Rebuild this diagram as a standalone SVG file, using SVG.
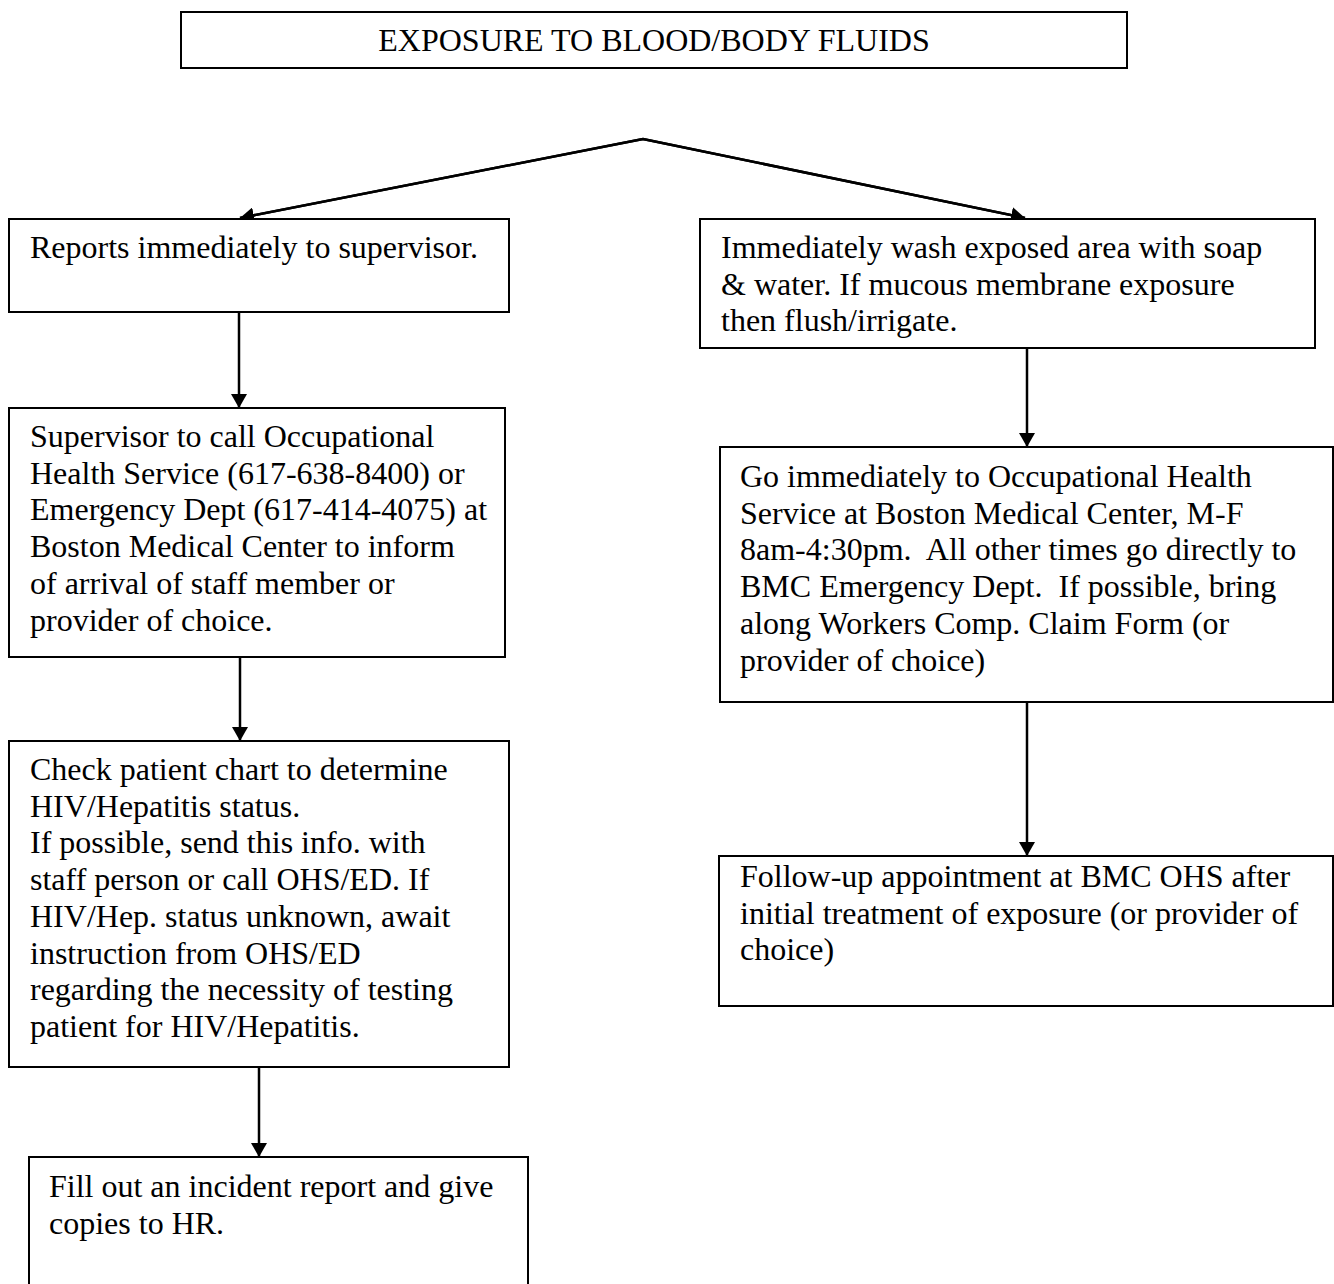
<svg xmlns="http://www.w3.org/2000/svg" width="1334" height="1284" viewBox="0 0 1334 1284">
<style>
.box{fill:#fff;stroke:#000;stroke-width:2}
.t{font-family:"Liberation Serif","Times New Roman",serif;font-size:32px;fill:#000;white-space:pre}
.c{fill:none;stroke:#000;stroke-width:2.5}
</style>
<defs>
<marker id="ah" viewBox="0 0 14 16" refX="14" refY="8" markerWidth="14" markerHeight="16" markerUnits="userSpaceOnUse" orient="auto">
<path d="M0,0 L14,8 L0,16 Z" fill="#000"/>
</marker>
</defs>
<rect width="1334" height="1284" fill="#fff"/>
<g id="connectors">
<polyline class="c" points="240,218 643,139 1025,218" fill="none"/>
<path class="c" d="M643,139 L240,218" marker-end="url(#ah)"/>
<path class="c" d="M643,139 L1025,218" marker-end="url(#ah)"/>
<path class="c" d="M239,312 L239,408" marker-end="url(#ah)"/>
<path class="c" d="M240,657 L240,741" marker-end="url(#ah)"/>
<path class="c" d="M259,1067 L259,1157" marker-end="url(#ah)"/>
<path class="c" d="M1027,348 L1027,447" marker-end="url(#ah)"/>
<path class="c" d="M1027,702 L1027,856" marker-end="url(#ah)"/>
</g>
<g id="title">
<rect class="box" x="181" y="12" width="946" height="56"/>
<text class="t" x="654" y="51" text-anchor="middle">EXPOSURE TO BLOOD/BODY FLUIDS</text>
</g>
<g id="n1">
<rect class="box" x="9" y="219" width="500" height="93"/>
<text class="t" x="30" y="258">Reports immediately to supervisor.</text>
</g>
<g id="n2">
<rect class="box" x="9" y="408" width="496" height="249"/>
<text class="t" x="30" y="447">Supervisor to call Occupational</text>
<text class="t" x="30" y="483.7">Health Service (617-638-8400) or</text>
<text class="t" x="30" y="520.4">Emergency Dept (617-414-4075) at</text>
<text class="t" x="30" y="557.1">Boston Medical Center to inform</text>
<text class="t" x="30" y="593.8">of arrival of staff member or</text>
<text class="t" x="30" y="630.5">provider of choice.</text>
</g>
<g id="n3">
<rect class="box" x="9" y="741" width="500" height="326"/>
<text class="t" x="30" y="780">Check patient chart to determine</text>
<text class="t" x="30" y="816.7">HIV/Hepatitis status.</text>
<text class="t" x="30" y="853.4">If possible, send this info. with</text>
<text class="t" x="30" y="890.1">staff person or call OHS/ED. If</text>
<text class="t" x="30" y="926.8">HIV/Hep. status unknown, await</text>
<text class="t" x="30" y="963.5">instruction from OHS/ED</text>
<text class="t" x="30" y="1000.2">regarding the necessity of testing</text>
<text class="t" x="30" y="1036.9">patient for HIV/Hepatitis.</text>
</g>
<g id="n4">
<rect class="box" x="29" y="1157" width="499" height="140"/>
<text class="t" x="49" y="1197">Fill out an incident report and give</text>
<text class="t" x="49" y="1233.7">copies to HR.</text>
</g>
<g id="r1">
<rect class="box" x="700" y="219" width="615" height="129"/>
<text class="t" x="721" y="258">Immediately wash exposed area with soap</text>
<text class="t" x="721" y="294.7">&amp; water. If mucous membrane exposure</text>
<text class="t" x="721" y="331.4">then flush/irrigate.</text>
</g>
<g id="r2">
<rect class="box" x="720" y="447" width="613" height="255"/>
<text class="t" x="740" y="487">Go immediately to Occupational Health</text>
<text class="t" x="740" y="523.7">Service at Boston Medical Center, M-F</text>
<text class="t" x="740" y="560.4">8am-4:30pm.  All other times go directly to</text>
<text class="t" x="740" y="597.1">BMC Emergency Dept.  If possible, bring</text>
<text class="t" x="740" y="633.8">along Workers Comp. Claim Form (or</text>
<text class="t" x="740" y="670.5">provider of choice)</text>
</g>
<g id="r3">
<rect class="box" x="719" y="856" width="614" height="150"/>
<text class="t" x="740" y="887">Follow-up appointment at BMC OHS after</text>
<text class="t" x="740" y="923.7">initial treatment of exposure (or provider of</text>
<text class="t" x="740" y="960.4">choice)</text>
</g>
</svg>
